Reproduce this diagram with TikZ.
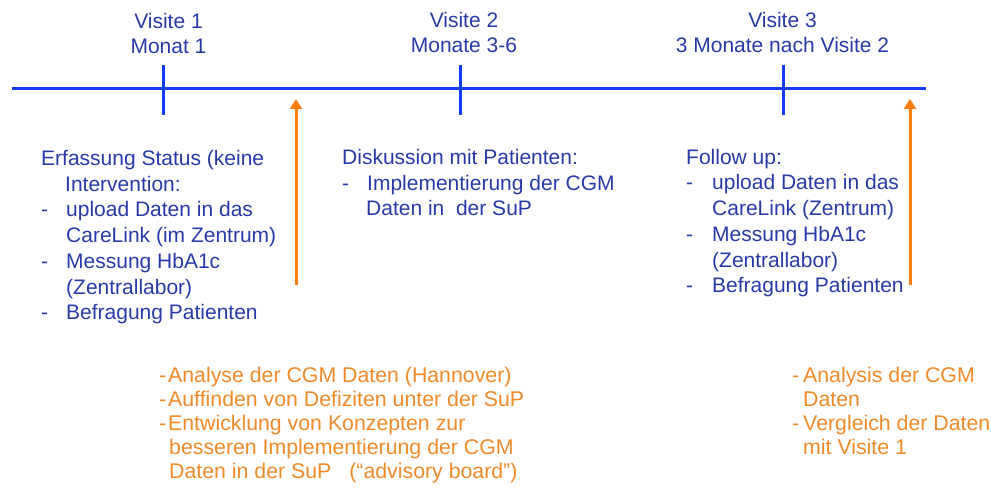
\documentclass[tikz,border=0pt]{standalone}
\usepackage{fontspec}
\setmainfont{Liberation Sans}
\usetikzlibrary{arrows.meta}
\definecolor{tblue}{RGB}{40,58,168}
\definecolor{lblue}{RGB}{20,60,245}
\definecolor{aorange}{RGB}{255,125,10}
\definecolor{torange}{RGB}{240,138,40}
\newcommand{\dsh}[1][25pt]{\makebox[#1][l]{-}}
\newcommand{\ind}[1][25pt]{\hspace*{#1}}
\begin{document}
\begin{tikzpicture}[x=1pt,y=1pt,
  hdr/.style={text=tblue,align=center,anchor=base,inner sep=0pt,font=\fontsize{21}{25}\selectfont},
  blk/.style={text=tblue,align=left,anchor=base west,inner sep=0pt,font=\fontsize{21}{25.8}\selectfont},
  oblk/.style={text=torange,align=left,anchor=base west,inner sep=0pt,font=\fontsize{21.3}{24}\selectfont},
  tline/.style={draw=lblue,line width=3pt},
  oarrow/.style={draw=aorange,line width=3pt,-{Triangle[width=12pt,length=10pt]}}]
\useasboundingbox (0,0) rectangle (991,488);
% timeline
\coordinate (ls) at (12,399);
\coordinate (le) at (926,399);
\draw[tline] (ls) -- (le);
\coordinate (t1a) at (163,423); \coordinate (t1b) at (163,373);
\coordinate (t2a) at (460,423); \coordinate (t2b) at (460,373);
\coordinate (t3a) at (783,423); \coordinate (t3b) at (783,373);
\draw[tline] (t1a) -- (t1b);
\draw[tline] (t2a) -- (t2b);
\draw[tline] (t3a) -- (t3b);
% headers (anchor = baseline of last line)
\node[hdr] (h1) at (168.5,434) {Visite 1\\Monat 1};
\node[hdr] (h2) at (464,435) {Visite 2\\Monate 3-6};
\node[hdr] (h3) at (782.5,435) {Visite 3\\3 Monate nach Visite 2};
% orange arrows
\coordinate (a1s) at (296,203); \coordinate (a1e) at (296,389);
\coordinate (a2s) at (910,203); \coordinate (a2e) at (910,389);
\draw[oarrow] (a1s) -- (a1e);
\draw[oarrow] (a2s) -- (a2e);
% blue blocks
\node[blk] (b1) at (41,168) {Erfassung Status (keine\\
\ind[24pt]Intervention:\\
\dsh upload Daten in das\\
\ind CareLink (im Zentrum)\\
\dsh Messung HbA1c\\
\ind(Zentrallabor)\\
\dsh Befragung Patienten};
\node[blk] (b2) at (342,272) {Diskussion mit Patienten:\\
\dsh Implementierung der CGM\\
\ind[24pt]Daten in\ \ der SuP};
\node[blk] (b3) at (686,195) {Follow up:\\
\dsh[26pt]upload Daten in das\\
\ind[26pt]CareLink (Zentrum)\\
\dsh[26pt]Messung HbA1c\\
\ind[26pt](Zentrallabor)\\
\dsh[26pt]Befragung Patienten};
% orange blocks
\node[oblk] (o1) at (159,10) {\dsh[9pt]Analyse der CGM Daten (Hannover)\\
\dsh[9pt]Auffinden von Defiziten unter der SuP\\
\dsh[9pt]Entwicklung von Konzepten zur\\
\ind[10pt]besseren Implementierung der CGM\\
\ind[10pt]Daten in der SuP\hspace{18pt}(“advisory board”)};
\node[oblk] (o2) at (792,34) {\dsh[11pt]Analysis der CGM\\
\ind[11pt]Daten\\
\dsh[11pt]Vergleich der Daten\\
\ind[11pt]mit Visite 1};
\end{tikzpicture}
\end{document}
